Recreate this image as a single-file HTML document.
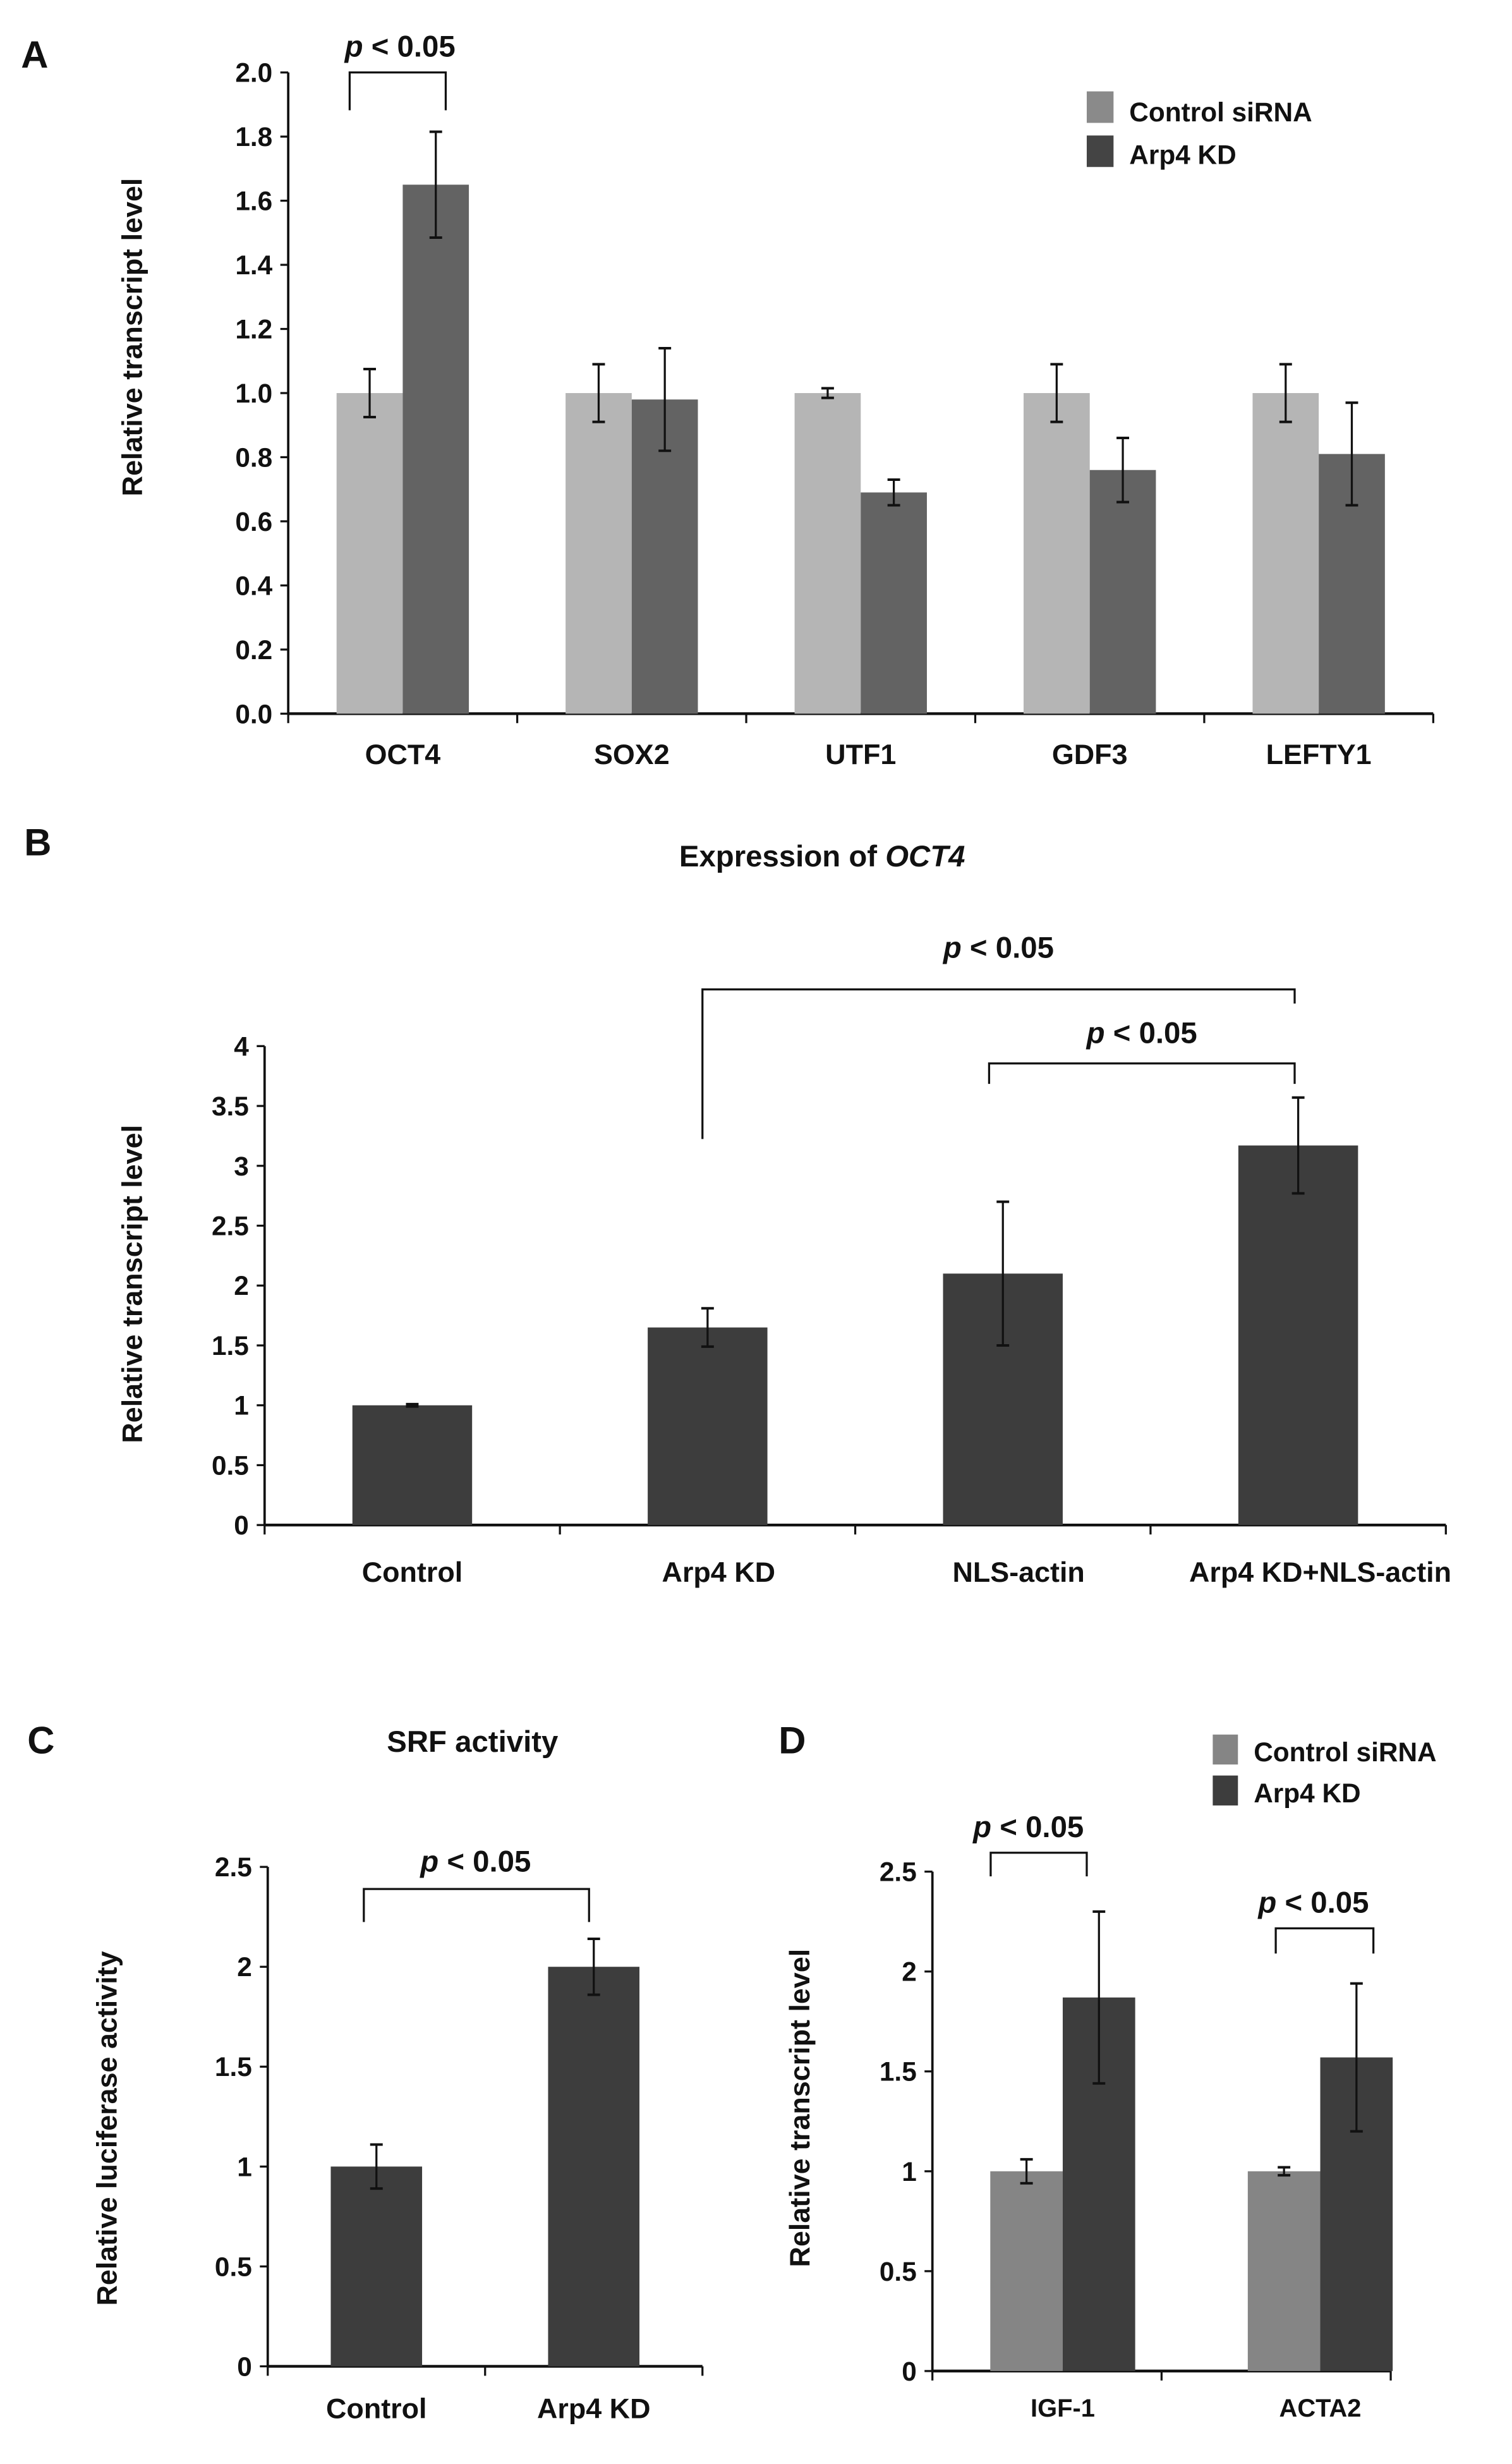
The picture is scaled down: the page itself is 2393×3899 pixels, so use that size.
<!DOCTYPE html>
<html><head><meta charset="utf-8">
<style>
html,body{margin:0;padding:0;background:#fff;}
svg{display:block;}
text{font-family:"Liberation Sans",Arial,sans-serif;font-weight:bold;fill:#111;}
</style></head>
<body>
<svg id="fig" width="2393" height="3899" viewBox="0 0 960 1564" preserveAspectRatio="none" xmlns="http://www.w3.org/2000/svg"></svg>
<script>
// Panel A data
const aCats = ["OCT4","SOX2","UTF1","GDF3","LEFTY1"];
const aCtrl = [1.0,1.0,1.0,1.0,1.0];
const aCtrlErr = [0.075,0.09,0.015,0.09,0.09];
const aKD = [1.65,0.98,0.69,0.76,0.81];
const aKDErr = [0.165,0.16,0.04,0.1,0.16];
const aTicks = ["0.0","0.2","0.4","0.6","0.8","1.0","1.2","1.4","1.6","1.8","2.0"];
// Panel B data
const bCats = ["Control","Arp4 KD","NLS-actin","Arp4 KD+NLS-actin"];
const bVals = [1.0,1.65,2.1,3.17];
const bErr = [0.01,0.16,0.6,0.4];
const bTicks = ["0","0.5","1","1.5","2","2.5","3","3.5","4"];
// Panel C data
const cCats = ["Control","Arp4 KD"];
const cVals = [1.0,2.0];
const cErr = [0.11,0.14];
const cTicks = ["0","0.5","1","1.5","2","2.5"];
// Panel D data
const dCats = ["IGF-1","ACTA2"];
const dCtrl = [1.0,1.0];
const dCtrlErr = [0.06,0.02];
const dKD = [1.87,1.57];
const dKDErr = [0.43,0.37];
const dTicks = ["0","0.5","1","1.5","2","2.5"];

const svg = document.getElementById('fig');
const NS = "http://www.w3.org/2000/svg";
function mk(tag, attrs, parent){
  const e = document.createElementNS(NS, tag);
  for (const k in attrs) e.setAttribute(k, attrs[k]);
  (parent||svg).appendChild(e);
  return e;
}
function txt(str, x, y, size, anchor, parent, name, italic){
  const t = mk('text', {x:x, y:y, 'font-size':size, 'text-anchor':anchor||'middle'}, parent);
  if (italic) t.setAttribute('font-style','italic');
  t.textContent = str;
  
  
  return t;
}
function line(x1,y1,x2,y2,parent,w){
  return mk('line',{x1:x1,y1:y1,x2:x2,y2:y2,stroke:'#111','stroke-width':w||1.4},parent);
}
function errbar(x,v,e,ys,parent){
  const g = mk('g',{},parent);
  
  
  line(x,ys(v+e),x,ys(v-e),g,1.3);
  line(x-4,ys(v+e),x+4,ys(v+e),g,1.6);
  line(x-4,ys(v-e),x+4,ys(v-e),g,1.6);
}
function pval(x,y,parent){
  const t = mk('text',{x:x,y:y,'font-size':19,'text-anchor':'middle'},parent);
  
  
  const s1 = mk('tspan',{'font-style':'italic'},t); s1.textContent='p';
  const s2 = mk('tspan',{},t); s2.textContent=' < 0.05';
}
function bracket(x1,x2,top,b1,b2,parent){
  const p = mk('path',{d:`M${x1},${b1} L${x1},${top} L${x2},${top} L${x2},${b2}`,fill:'none',stroke:'#111','stroke-width':1.3},parent);
  
  
}
function axes(g, x0, x1, y0, yTop, ticks, nCats, tickFmtSize){
  const n = ticks.length-1;
  const ys = v => y0 - (v/parseFloat(ticks[n]))*(y0-yTop);
  const ax = mk('g',{},g);
  
  
  line(x0,yTop,x0,y0,ax,1.5);
  ticks.forEach(t=>{
    const y = ys(parseFloat(t));
    line(x0-5,y,x0,y,ax,1.3);
    txt(t, x0-10, y+6, tickFmtSize, 'end', ax, 'y-tick-label');
  });
  const xa = mk('g',{},g);
  
  
  line(x0,y0,x1,y0,xa,1.8);
  const step = (x1-x0)/nCats;
  for(let i=0;i<=nCats;i++) line(x0+i*step,y0,x0+i*step,y0+6,xa,1.3);
  return {ys, step, xa};
}
function rect(x,y,w,h,fill,parent,name){
  const r = mk('rect',{x:x,y:y,width:w,height:h,fill:fill},parent);
  
  
  return r;
}
function ytitle(str,x,y,parent){
  const t = txt(str,x,y,18,'middle',parent,'y-axis-title');
  t.setAttribute('transform',`rotate(-90 ${x} ${y})`);
}

// ---- Panel A ----
const gA = mk('g',{});  
txt('A',22,43,24,'middle',gA,'panel-label-a');
{
  const x0=183,x1=910,y0=453,yT=46;
  const A = axes(gA,x0,x1,y0,yT,aTicks,aCats.length,17);
  const bw=42;
  aCats.forEach((c,i)=>{
    const cx = x0 + A.step*(i+0.5);
    rect(cx-bw, A.ys(aCtrl[i]), bw, y0-A.ys(aCtrl[i]), '#b5b5b5', gA, 'bar-control-'+c.toLowerCase());
    rect(cx, A.ys(aKD[i]), bw, y0-A.ys(aKD[i]), '#636363', gA, 'bar-arp4kd-'+c.toLowerCase());
    errbar(cx-bw/2, aCtrl[i], aCtrlErr[i], A.ys, gA);
    errbar(cx+bw/2, aKD[i], aKDErr[i], A.ys, gA);
    txt(c, cx, 485, 18, 'middle', gA, 'x-tick-label');
  });
  ytitle('Relative transcript level',90,214,gA);
  bracket(222,283,46,70,70,gA);
  pval(254,36,gA);
  const lg = mk('g',{},gA);  
  rect(690,58,17,20,'#8a8a8a',lg,'legend-swatch-control');
  rect(690,86,17,20,'#444444',lg,'legend-swatch-arp4kd');
  txt('Control siRNA',717,77,17,'start',lg,'legend-entry-control');
  txt('Arp4 KD',717,104,17,'start',lg,'legend-entry-arp4kd');
}

// ---- Panel B ----
const gB = mk('g',{});  
txt('B',24,543,24,'middle',gB,'panel-label-b');
{
  const t = mk('text',{x:522,y:550,'font-size':19,'text-anchor':'middle'},gB);
  
  
  const s1 = mk('tspan',{},t); s1.textContent='Expression of\u00A0';
  const s2 = mk('tspan',{'font-style':'italic'},t); s2.textContent='OCT4';
}
{
  const x0=168,x1=918,y0=968,yT=664;
  const B = axes(gB,x0,x1,y0,yT,bTicks,bCats.length,17);
  const bw=76;
  bCats.forEach((c,i)=>{
    const cx = x0 + B.step*(i+0.5);
    rect(cx-bw/2, B.ys(bVals[i]), bw, y0-B.ys(bVals[i]), '#3d3d3d', gB, 'bar-'+c.toLowerCase().replace(/[^a-z0-9]+/g,'-'));
    errbar(cx, bVals[i], bErr[i], B.ys, gB);
    txt(c, cx-(i==3?-14:0)+(i==1?7:0)+(i==2?10:0), 1004, 18, 'middle', gB, 'x-tick-label');
  });
  ytitle('Relative transcript level',90,815,gB);
  bracket(446,822,628,723,637,gB);
  pval(634,608,gB);
  bracket(628,822,675,688,688,gB);
  pval(725,662,gB);
}

// ---- Panel C ----
const gC = mk('g',{});  
txt('C',26,1113,24,'middle',gC,'panel-label-c');
txt('SRF activity',300,1112,19,'middle',gC,'chart-title');
{
  const x0=170,x1=446,y0=1502,yT=1185;
  const C = axes(gC,x0,x1,y0,yT,cTicks,cCats.length,17);
  const bw=58;
  cCats.forEach((c,i)=>{
    const cx = x0 + C.step*(i+0.5);
    rect(cx-bw/2, C.ys(cVals[i]), bw, y0-C.ys(cVals[i]), '#3d3d3d', gC, 'bar-'+c.toLowerCase().replace(/[^a-z0-9]+/g,'-'));
    errbar(cx, cVals[i], cErr[i], C.ys, gC);
    txt(c, cx, 1535, 18, 'middle', gC, 'x-tick-label');
  });
  ytitle('Relative luciferase activity',74,1351,gC);
  bracket(231,374,1199,1220,1220,gC);
  pval(302,1188,gC);
}

// ---- Panel D ----
const gD = mk('g',{});  
txt('D',503,1113,24,'middle',gD,'panel-label-d');
{
  const x0=592,x1=883,y0=1505,yT=1188;
  const D = axes(gD,x0,x1,y0,yT,dTicks,dCats.length,17);
  const bw=46;
  dCats.forEach((c,i)=>{
    const cx = x0 + D.step*(i+0.5) + (i==0?10:28);
    rect(cx-bw, D.ys(dCtrl[i]), bw, y0-D.ys(dCtrl[i]), '#858585', gD, 'bar-control-'+c.toLowerCase());
    rect(cx, D.ys(dKD[i]), bw, y0-D.ys(dKD[i]), '#3d3d3d', gD, 'bar-arp4kd-'+c.toLowerCase());
    errbar(cx-bw/2, dCtrl[i], dCtrlErr[i], D.ys, gD);
    errbar(cx+bw/2, dKD[i], dKDErr[i], D.ys, gD);
    txt(c, cx, 1534, 16, 'middle', gD, 'x-tick-label');
  });
  ytitle('Relative transcript level',514,1338,gD);
  bracket(629,690,1176,1191,1191,gD);
  pval(653,1166,gD);
  bracket(810,872,1224,1240,1240,gD);
  pval(834,1214,gD);
  const lg = mk('g',{},gD);  
  rect(770,1101,16,19,'#858585',lg,'legend-swatch-control');
  rect(770,1127,16,19,'#3d3d3d',lg,'legend-swatch-arp4kd');
  txt('Control siRNA',796,1118,17,'start',lg,'legend-entry-control');
  txt('Arp4 KD',796,1144,17,'start',lg,'legend-entry-arp4kd');
}
</script>
</body></html>
